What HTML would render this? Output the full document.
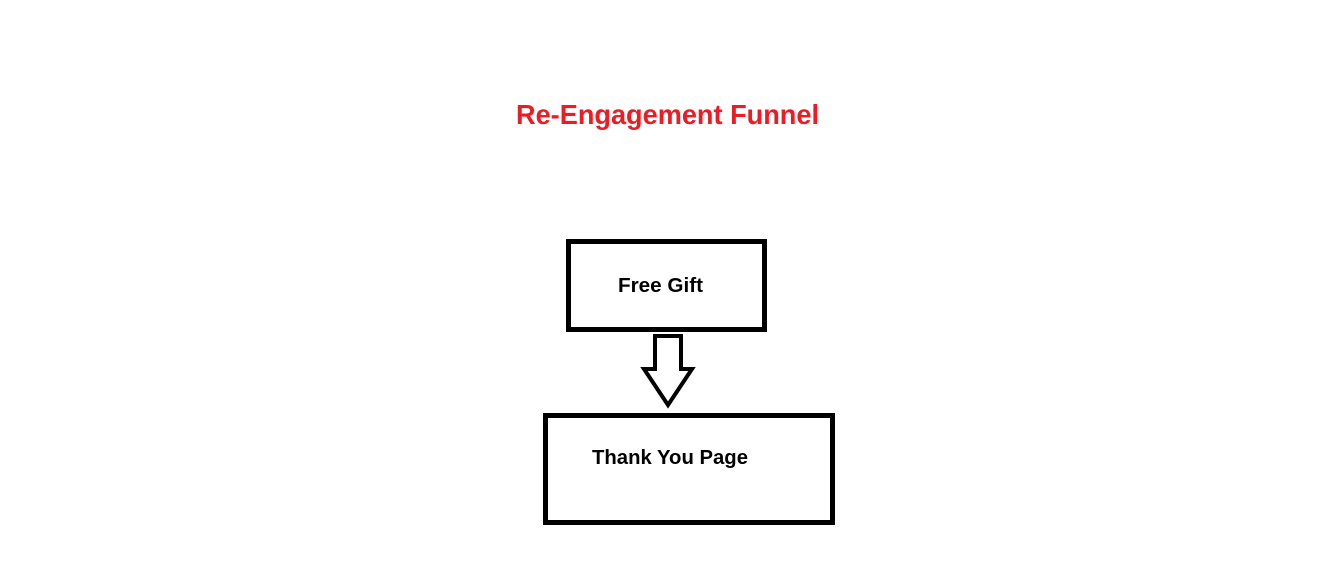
<!DOCTYPE html>
<html><head><style>html,body{margin:0;padding:0;background:#fff;}svg{display:block}</style></head>
<body>
<svg width="1318" height="562" xmlns="http://www.w3.org/2000/svg">
<rect width="1318" height="562" fill="#fff"/>
<text x="516" y="124" font-family="Liberation Sans, sans-serif" font-weight="bold" font-size="28" fill="#ed1c24" textLength="303" lengthAdjust="spacingAndGlyphs">Re-Engagement Funnel</text>
<rect x="568.5" y="241.5" width="196" height="88" fill="none" stroke="#000" stroke-width="5"/>
<text x="618" y="292" font-family="Liberation Sans, sans-serif" font-weight="bold" font-size="20" fill="#000" textLength="85" lengthAdjust="spacingAndGlyphs">Free Gift</text>
<polygon points="655,336 681,336 681,369 692,369 668,405 644,369 655,369" fill="none" stroke="#000" stroke-width="4" stroke-linejoin="miter"/>
<rect x="545.5" y="415.5" width="287" height="107" fill="none" stroke="#000" stroke-width="5"/>
<text x="592" y="464" font-family="Liberation Sans, sans-serif" font-weight="bold" font-size="20" fill="#000" textLength="156" lengthAdjust="spacingAndGlyphs">Thank You Page</text>
</svg>
</body></html>
